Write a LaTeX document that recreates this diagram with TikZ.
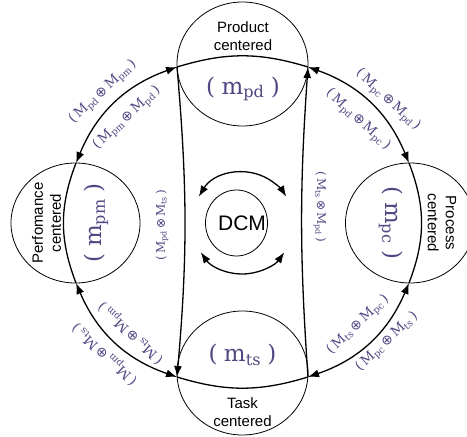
\documentclass[tikz,border=0pt]{standalone}
\usepackage{fontspec}
\setmainfont{Liberation Sans}
\newfontfamily\lblfont{DejaVu Serif}
\newfontfamily\symfont{DejaVu Sans}
\usetikzlibrary{arrows.meta,shapes.geometric}
\definecolor{lblcol}{RGB}{78,72,130}
\newcommand{\opl}{{\symfont ⊕}}
\newcommand{\otm}{{\symfont ⊗}}
\newcommand{\Ms}[1]{M\textsubscript{#1}}
\newcommand{\ms}[1]{m\textsubscript{#1}}
\tikzset{
  ring/.style={draw, ellipse, line width=0.8pt, inner sep=0},
  thickarc/.style={line width=1.3pt},
  tipped/.style={thickarc, {Latex[length=11pt,width=8pt]}-{Latex[length=11pt,width=8pt]}},
  headend/.style={thickarc, -{Latex[length=11pt,width=8pt]}},
  plain/.style={font=\fontsize{15}{18}\selectfont, align=center, inner sep=0},
  lbl/.style={text=lblcol, font=\lblfont\fontsize{13.5}{16}\selectfont, inner sep=0},
  vlbl/.style={text=lblcol, font=\lblfont\fontsize{12}{14}\selectfont, inner sep=0},
  biglbl/.style={text=lblcol, font=\lblfont\fontsize{23}{27}\selectfont, inner sep=0}
}
\begin{document}
\begin{tikzpicture}[x=1pt,y=1pt]
\useasboundingbox (0,0) rectangle (467,437);
% rings
\node[ring, minimum width=131, minimum height=124] (top) at (242.5,373) {};
\node[ring, minimum width=131, minimum height=124] (bot) at (242.5,64) {};
\node[ring, minimum width=129, minimum height=120] (lft) at (75.5,214) {};
\node[ring, minimum width=129, minimum height=120] (rgt) at (410,214) {};
\node[ring, minimum width=62, minimum height=66] (dcm) at (236.5,214) {};
\node[font=\fontsize{21}{24}\selectfont, inner sep=0] (dcmtxt) at (242,214) {DCM};
% junction points
\coordinate (TL) at (177,370);
\coordinate (TR) at (308,370);
\coordinate (BL) at (177,60);
\coordinate (BR) at (308,60);
\coordinate (LT) at (76,274);
\coordinate (LB) at (76,154);
\coordinate (RT) at (409,274);
\coordinate (RB) at (409,154);
% big loop
\draw[tipped] (LT) to[bend left=24] (TL);
\draw[thickarc] (TL) to[bend left=17] (TR);
\draw[tipped] (TR) to[bend left=24] (RT);
\draw[thickarc] (RT) to[bend left=21] (RB);
\draw[tipped] (RB) to[bend left=24] (BR);
\draw[thickarc] (BR) to[bend left=17] (BL);
\draw[tipped] (BL) to[bend left=24] (LB);
\draw[thickarc] (LB) to[bend left=21] (LT);
% verticals
\draw[headend] (TL) to[bend left=5] (BL);
\draw[headend] (BR) to[bend left=4] (TR);
% DCM arcs
\coordinate (dc) at (242.5,214);
\draw[tipped] ([shift={(149:51)}]dc) arc[start angle=149, end angle=31, radius=51];
\draw[tipped] ([shift={(215:51)}]dc) arc[start angle=215, end angle=325, radius=51];
% ring texts
\node[plain] (ptxt) at (243,401) {Product\\centered};
\node[plain] (ttxt) at (242.5,25) {Task\\centered};
\node[plain, rotate=90] (pmtxt) at (46.5,214) {Perfomance\\centered};
\node[plain, rotate=-90] (pctxt) at (442,214) {Process\\centered};
\node[biglbl] (mpd) at (243,348) {(\;\ms{pd}\;)};
\node[biglbl] (mts) at (242.5,82) {(\;\ms{ts}\;)};
\node[biglbl, rotate=90] (mpm) at (96,214) {(\;\ms{pm}\;)};
\node[biglbl, rotate=-90] (mpc) at (391,214) {(\;\ms{pc}\;)};
% arc labels
\node[lbl, rotate=43] (l1) at (103,345) {(\,\Ms{pd}\,\opl\,\Ms{pm}\,)};
\node[lbl, rotate=43] (l2) at (127,319) {(\,\Ms{pm}\,\opl\,\Ms{pd}\,)};
\node[lbl, rotate=-43] (l3) at (388,337) {(\,\Ms{pc}\,\opl\,\Ms{pd}\,)};
\node[lbl, rotate=-43] (l4) at (358,317) {(\,\Ms{pd}\,\opl\,\Ms{pc}\,)};
\node[lbl, rotate=137] (l5) at (131,104) {(\,\Ms{ts}\,\opl\,\Ms{pm}\,)};
\node[lbl, rotate=137] (l6) at (105,83) {(\,\Ms{pm}\,\opl\,\Ms{ts}\,)};
\node[lbl, rotate=43] (l7) at (358,112) {(\,\Ms{ts}\,\opl\,\Ms{pc}\,)};
\node[lbl, rotate=43] (l8) at (387,95) {(\,\Ms{pc}\,\opl\,\Ms{ts}\,)};
\node[vlbl, rotate=90] (l9) at (162,212) {(\,\Ms{pd}\,\otm\,\Ms{ts}\,)};
\node[vlbl, rotate=-90] (l10) at (320,230) {(\,\Ms{ts}\,\otm\,\Ms{pd}\,)};
\end{tikzpicture}
\end{document}
